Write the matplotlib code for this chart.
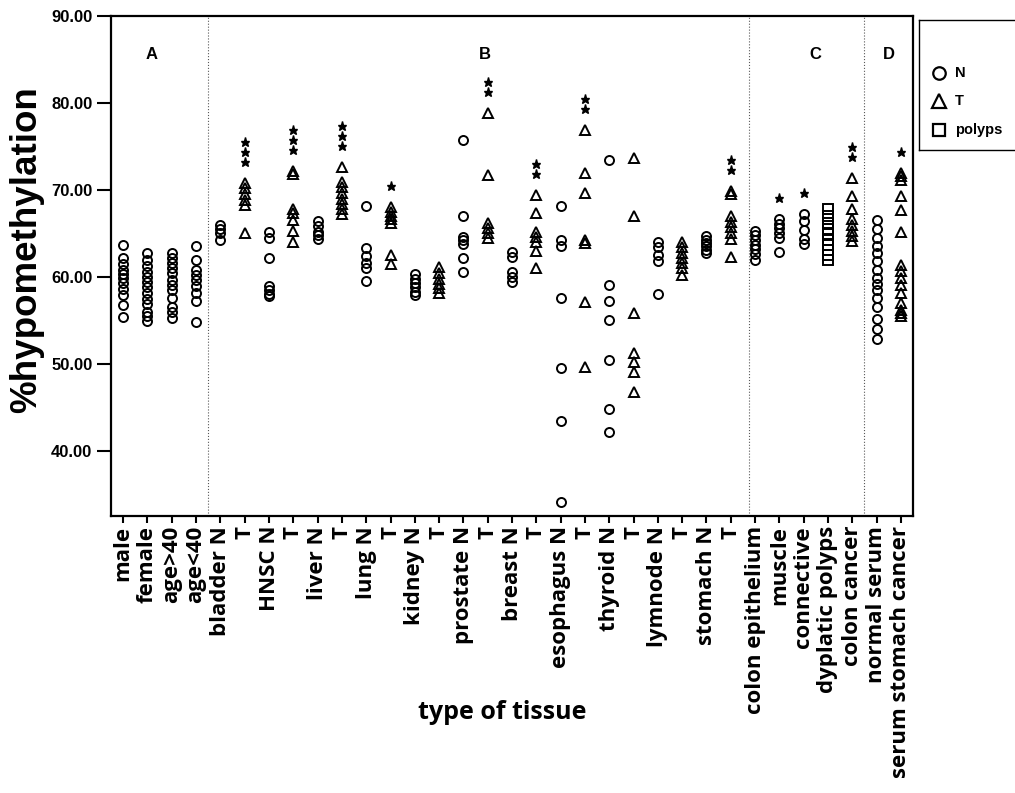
import matplotlib.pyplot as plt
from matplotlib.lines import Line2D

# values (% hypomethylation)
male = [63.7, 62.2, 61.5, 60.8, 60.3, 59.9, 59.3, 58.6, 57.9, 56.8, 55.4]
female = [62.8, 62.0, 61.3, 60.6, 60.0, 59.4, 58.8, 58.2, 57.5, 56.9, 56.0, 55.5, 54.9]
age_over40 = [62.8, 62.2, 61.6, 61.0, 60.4, 59.7, 59.1, 58.5, 57.6, 56.6, 56.0, 55.3]
age_under40 = [63.6, 62.0, 60.8, 60.2, 59.6, 59.0, 58.2, 57.2, 54.8]
bladder_n = [66.0, 65.5, 65.0, 64.3]
bladder_t = [70.8, 70.2, 69.5, 68.8, 68.3, 65.1]
hnsc_n = [65.2, 64.5, 62.2, 59.0, 58.5, 58.0, 57.8]
hnsc_t = [72.2, 71.8, 67.8, 67.3, 66.5, 65.3, 64.0]
liver_n = [66.4, 65.8, 65.2, 64.8, 64.4]
liver_t = [72.6, 70.9, 70.3, 69.6, 69.0, 68.4, 67.8, 67.2]
lung_n = [68.1, 63.3, 62.4, 61.6, 61.0, 59.5]
lung_t = [68.0, 67.5, 67.0, 66.6, 66.2, 62.5, 61.5]
kidney_n = [60.3, 59.8, 59.3, 58.8, 58.3, 57.9]
kidney_t = [61.1, 60.4, 59.8, 59.2, 58.7, 58.2]
prostate_n = [75.7, 67.0, 64.6, 64.2, 63.8, 62.2, 60.6]
prostate_t = [78.8, 71.7, 66.2, 65.6, 65.0, 64.5]
breast_n = [62.9, 62.3, 60.6, 60.0, 59.4]
breast_t = [69.4, 67.3, 65.2, 64.6, 64.0, 63.0, 61.0]
esophagus_n = [68.2, 64.3, 63.6, 57.6, 49.5, 43.5, 34.1]
esophagus_t = [76.9, 72.0, 69.7, 64.3, 63.9, 57.1, 49.6]
thyroid_n = [73.4, 59.1, 57.2, 55.0, 50.5, 44.8, 42.2]
thyroid_t = [73.7, 67.0, 55.8, 51.3, 50.2, 49.1, 46.8]
lymnode_n = [64.0, 63.4, 62.5, 61.8, 58.0]
lymnode_t = [64.0, 63.4, 62.8, 62.2, 61.6, 61.0, 60.2]
stomach_n = [64.7, 64.3, 63.9, 63.5, 63.1, 62.8]
stomach_t = [69.9, 69.5, 67.0, 66.3, 65.7, 65.1, 64.4, 62.3]
colon_epithelium = [65.3, 64.8, 64.3, 63.7, 63.2, 62.6, 62.0]
muscle = [66.7, 66.1, 65.6, 65.0, 64.5, 62.9]
connective = [67.2, 66.4, 65.4, 64.4, 63.8]
dyplatic_polyps = [67.8, 67.0, 66.2, 65.5, 64.9, 64.3, 63.7, 63.1, 62.5, 62.0]
colon_cancer = [71.4, 69.3, 67.8, 66.6, 66.0, 65.3, 64.7, 64.1]
normal_serum = [66.5, 65.5, 64.5, 63.5, 62.8, 61.8, 60.8, 59.9, 59.2, 58.5,
                57.6, 56.5, 55.2, 54.0, 52.9]
serum_stomach_cancer = [72.0, 71.6, 71.1, 69.3, 67.7, 65.2, 61.4, 60.7, 59.9,
                        59.1, 58.1, 57.0, 56.2, 55.8, 55.5]

columns = [male, female, age_over40, age_under40,
           bladder_n, bladder_t, hnsc_n, hnsc_t, liver_n, liver_t,
           lung_n, lung_t, kidney_n, kidney_t, prostate_n, prostate_t,
           breast_n, breast_t, esophagus_n, esophagus_t, thyroid_n, thyroid_t,
           lymnode_n, lymnode_t, stomach_n, stomach_t,
           colon_epithelium, muscle, connective, dyplatic_polyps, colon_cancer,
           normal_serum, serum_stomach_cancer]

tick_labels = ['male', 'female', 'age>40', 'age<40',
               'bladder N', 'T', 'HNSC N', 'T', 'liver N', 'T', 'lung N', 'T',
               'kidney N', 'T', 'prostate N', 'T', 'breast N', 'T',
               'esophagus N', 'T', 'thyroid N', 'T', 'lymnode N', 'T',
               'stomach N', 'T',
               'colon epithelium', 'muscle', 'connective', 'dyplatic polyps',
               'colon cancer', 'normal serum', 'serum stomach cancer']
groups = ['N'] * 4 + ['N', 'T'] * 11 + ['N', 'N', 'N', 'polyps', 'T', 'N', 'T']
stars = [0] * 4 + [0, 3, 0, 3, 0, 3, 0, 1, 0, 0, 0, 2,
                   0, 2, 0, 2, 0, 0, 0, 0, 0, 2] + [0, 1, 1, 0, 2, 0, 1]

panel_names = ['A', 'B', 'C', 'D']
panel_centers = [1.15, 14.9, 28.5, 31.5]
dividers = [3.5, 25.75, 30.5]

markers = {'N': ('o', 6.5), 'T': ('^', 7.5), 'polyps': ('s', 6.5)}

fig = plt.figure(figsize=(10.15, 7.93), dpi=100)
ax = fig.add_axes([0.1094, 0.349, 0.7901, 0.631])

for i, vals in enumerate(columns):
    m, ms = markers[groups[i]]
    ax.plot([i] * len(vals), vals, linestyle='none', marker=m, ms=ms,
            mfc='none', mec='black', mew=1.4)
    if stars[i]:
        top = max(vals)
        ax.plot([i] * stars[i], [top + 2.4 + k * 1.15 for k in range(stars[i])],
                linestyle='none', marker='*', ms=6.5, color='black')

for d in dividers:
    ax.axvline(d, color='0.35', lw=0.8, ls=':')

for name, cx in zip(panel_names, panel_centers):
    ax.text(cx, 85.6, name, ha='center', va='center', fontsize=12,
            fontweight='bold', family='Liberation Sans')

ax.set_xlim(-0.5, len(columns) - 0.5)
ax.set_ylim(32.5, 90)
ax.set_yticks([40, 50, 60, 70, 80, 90])
ax.set_yticklabels([f'{v:.2f}' for v in [40, 50, 60, 70, 80, 90]],
                   fontsize=12, fontweight='bold', family='Liberation Sans')
ax.set_xticks(range(len(columns)))
ax.set_xticklabels(tick_labels, rotation=90, fontsize=16, fontweight='bold',
                   family='Open Sans')
ax.tick_params(axis='y', length=10, width=1.5, pad=3.5)
ax.tick_params(axis='x', length=5, width=1.5, pad=2)
for sp in ax.spines.values():
    sp.set_linewidth(1.6)

ax.set_ylabel('%hypomethylation', fontsize=26.5, fontweight='bold',
              family='Liberation Sans')
ax.yaxis.set_label_coords(-0.083, 0.532)
fig.text(0.4946, 0.102, 'type of tissue', ha='center', va='center',
         fontsize=18, fontweight='bold', family='Open Sans')

# legend box drawn as its own small axes (right edge runs off the page)
lax = fig.add_axes([919 / 1015, 1 - 150 / 793, 100 / 1015, 130 / 793])
lax.set_xlim(0, 1)
lax.set_ylim(0, 1)
lax.set_xticks([])
lax.set_yticks([])
for sp in lax.spines.values():
    sp.set_linewidth(1.0)
legend_items = [('N', 'o', 9), ('T', '^', 10), ('polyps', 's', 9)]
for k, (lab, m, ms) in enumerate(legend_items):
    y = 0.595 - k * 0.22
    lax.add_line(Line2D([0.2], [y], marker=m, ms=ms, mfc='none',
                        mec='black', mew=1.6, linestyle='none'))
    lax.text(0.36, y, lab, ha='left', va='center', fontsize=10.5,
             fontweight='bold', family='Liberation Sans')

fig.savefig('out.png', dpi=100)
